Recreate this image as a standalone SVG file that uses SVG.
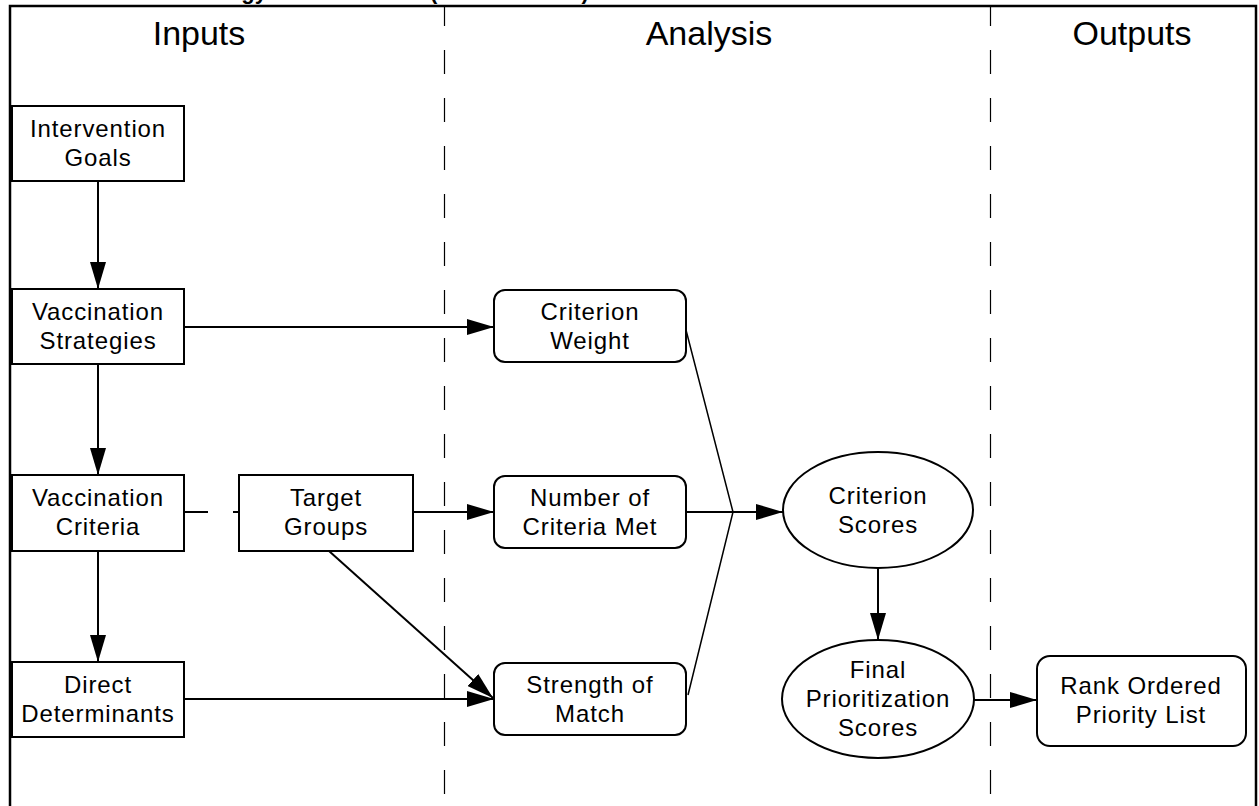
<svg xmlns="http://www.w3.org/2000/svg" width="1259" height="806" viewBox="0 0 1259 806">
<style>
  .box { fill: #fff; stroke: #000; stroke-width: 2; }
  .ell { fill: #fff; stroke: #000; stroke-width: 2; }
  .lbl { font-family: "Liberation Sans", Arial, sans-serif; font-size: 24px; letter-spacing: 0.9px; fill: #000; text-anchor: middle; }
  .hdr { font-family: "Liberation Sans", Arial, sans-serif; font-size: 34px; fill: #000; text-anchor: middle; }
  .title { font-family: "Liberation Sans", Arial, sans-serif; font-size: 22px; font-weight: bold; fill: #000; }
  .sep { stroke: #000; stroke-width: 1.2; stroke-dasharray: 24 24; stroke-dashoffset: 4; fill: none; }
  .con { stroke: #000; stroke-width: 2; fill: none; }
  .thin { stroke: #000; stroke-width: 1.5; fill: none; }
</style>
<defs>
  <marker id="ah" markerUnits="userSpaceOnUse" markerWidth="27" markerHeight="16" refX="27" refY="8" orient="auto">
    <path d="M0,0 L27,8 L0,16 Z" fill="#000"/>
  </marker>
</defs>
<rect width="1259" height="806" fill="#fff"/>
<text class="title" x="130" y="-0.6">Methodology Flow Chart <tspan x="430">(Overall Model)</tspan></text>
<g id="frame">
  <path d="M10,820 L10,6 L1256,6 L1256,820" fill="none" stroke="#000" stroke-width="2.5"/>
  <line class="sep" x1="444.5" y1="6" x2="444.5" y2="806"/>
  <line class="sep" x1="990.5" y1="6" x2="990.5" y2="806"/>
  <text class="hdr" x="199" y="45">Inputs</text>
  <text class="hdr" x="709" y="45">Analysis</text>
  <text class="hdr" x="1132" y="45">Outputs</text>
</g>
<g id="connectors">
  <line class="con" x1="98" y1="181" x2="98" y2="289" marker-end="url(#ah)"/>
  <line class="con" x1="98" y1="364" x2="98" y2="475" marker-end="url(#ah)"/>
  <line class="con" x1="98" y1="551" x2="98" y2="662" marker-end="url(#ah)"/>
  <line class="con" x1="184" y1="327" x2="494" y2="327" marker-end="url(#ah)"/>
  <line class="con" x1="184" y1="512" x2="208" y2="512"/>
  <line class="con" x1="233" y1="512" x2="239" y2="512"/>
  <line class="con" x1="413" y1="512" x2="494" y2="512" marker-end="url(#ah)"/>
  <line class="con" x1="329" y1="551" x2="493" y2="698" marker-end="url(#ah)"/>
  <line class="con" x1="184" y1="699" x2="494" y2="699" marker-end="url(#ah)"/>
  <path class="thin" d="M686,330 L733,512 L688,695"/>
  <line class="con" x1="686" y1="512" x2="783" y2="512" marker-end="url(#ah)"/>
  <line class="con" x1="878" y1="568" x2="878" y2="640" marker-end="url(#ah)"/>
  <line class="con" x1="974" y1="700" x2="1037" y2="700" marker-end="url(#ah)"/>
</g>
<g id="intervention-goals">
  <rect class="box" x="12" y="106" width="172" height="75"/>
  <text class="lbl" x="98" y="137">Intervention</text>
  <text class="lbl" x="98" y="166">Goals</text>
</g>
<g id="vaccination-strategies">
  <rect class="box" x="12" y="289" width="172" height="75"/>
  <text class="lbl" x="98" y="320">Vaccination</text>
  <text class="lbl" x="98" y="349">Strategies</text>
</g>
<g id="vaccination-criteria">
  <rect class="box" x="12" y="475" width="172" height="76"/>
  <text class="lbl" x="98" y="506">Vaccination</text>
  <text class="lbl" x="98" y="535">Criteria</text>
</g>
<g id="direct-determinants">
  <rect class="box" x="12" y="662" width="172" height="75"/>
  <text class="lbl" x="98" y="693">Direct</text>
  <text class="lbl" x="98" y="722">Determinants</text>
</g>
<g id="target-groups">
  <rect class="box" x="239" y="475" width="174" height="76"/>
  <text class="lbl" x="326" y="506">Target</text>
  <text class="lbl" x="326" y="535">Groups</text>
</g>
<g id="criterion-weight">
  <rect class="box" x="494" y="290" width="192" height="72" rx="11"/>
  <text class="lbl" x="590" y="320">Criterion</text>
  <text class="lbl" x="590" y="349">Weight</text>
</g>
<g id="number-criteria-met">
  <rect class="box" x="494" y="476" width="192" height="72" rx="11"/>
  <text class="lbl" x="590" y="506">Number of</text>
  <text class="lbl" x="590" y="535">Criteria Met</text>
</g>
<g id="strength-of-match">
  <rect class="box" x="494" y="663" width="192" height="72" rx="11"/>
  <text class="lbl" x="590" y="693">Strength of</text>
  <text class="lbl" x="590" y="722">Match</text>
</g>
<g id="criterion-scores">
  <ellipse class="ell" cx="878" cy="510" rx="95" ry="58"/>
  <text class="lbl" x="878" y="504">Criterion</text>
  <text class="lbl" x="878" y="533">Scores</text>
</g>
<g id="final-prioritization-scores">
  <ellipse class="ell" cx="878" cy="699" rx="96" ry="59"/>
  <text class="lbl" x="878" y="678">Final</text>
  <text class="lbl" x="878" y="707">Prioritization</text>
  <text class="lbl" x="878" y="736">Scores</text>
</g>
<g id="rank-ordered-priority-list">
  <rect class="box" x="1037" y="656" width="209" height="90" rx="13"/>
  <text class="lbl" x="1141" y="694">Rank Ordered</text>
  <text class="lbl" x="1141" y="723">Priority List</text>
</g>
</svg>
